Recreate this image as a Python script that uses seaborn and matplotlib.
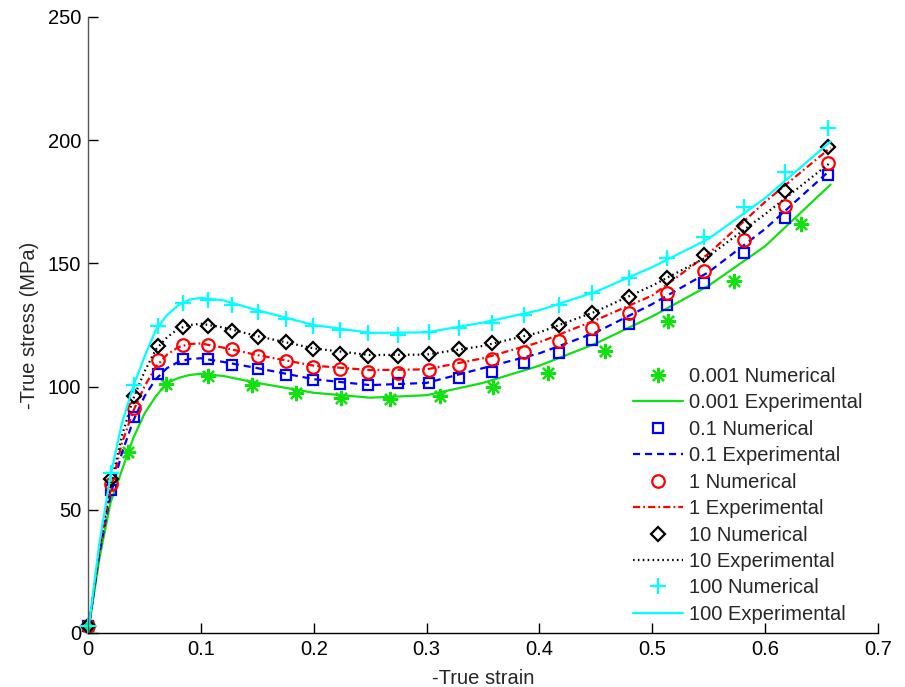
import matplotlib
matplotlib.use("Agg")
import matplotlib.pyplot as plt
import seaborn as sns
import numpy as np

# ---------------- data ----------------
rates = ["0.001", "0.1", "1", "10", "100"]

# numerical (markers)
num_x_001 = [0, 0.035, 0.069, 0.106, 0.145, 0.184, 0.224, 0.268, 0.312, 0.359,
             0.408, 0.458, 0.514, 0.572, 0.632]
num_y_001 = [3, 73.5, 101, 104.3, 100.8, 97.5, 95.2, 94.8, 96, 100,
             105.5, 114.6, 126.8, 142.7, 166]

num_x = [0, 0.020, 0.041, 0.062, 0.084, 0.106, 0.128, 0.151, 0.175, 0.199,
         0.223, 0.248, 0.275, 0.302, 0.329, 0.358, 0.386, 0.417, 0.447, 0.479,
         0.513, 0.546, 0.581, 0.618, 0.656]
num_y_01 = [3, 58, 87.5, 105, 111, 111, 108.8, 107, 104.7, 102.7,
            101, 100.6, 101.3, 101.6, 103.6, 106, 109.4, 113.8, 119, 125.4,
            133.1, 142.2, 154.3, 168.5, 186]
num_y_1 = [3, 60.5, 91.5, 110.8, 116.9, 116.9, 115.1, 112.4, 110.4, 108.1,
           107, 105.8, 105.7, 106.7, 108.8, 111, 114.2, 118.7, 123.6, 130,
           137.8, 147, 159.3, 173.3, 190.6]
num_y_10 = [3, 62.4, 96, 116.5, 124, 124.6, 122.6, 120.3, 117.9, 115.1,
            113.2, 112.4, 112.4, 113.2, 115.1, 117.6, 120.5, 125, 130, 136.5,
            143.9, 153.4, 165.2, 179.4, 197.4]
num_y_100 = [3, 65, 100.8, 124.4, 133.8, 135.1, 133.1, 130.4, 127.3, 124.6,
             123, 121.6, 121, 122.3, 123.7, 125.7, 129, 133.1, 137.9, 143.9,
             152, 160.9, 172.7, 187.2, 204.8]

# experimental (lines)
exp_x = [0, 0.01, 0.02, 0.03, 0.04, 0.05, 0.06, 0.07, 0.08, 0.09, 0.10, 0.12,
         0.15, 0.20, 0.25, 0.30, 0.35, 0.40, 0.45, 0.50, 0.55, 0.60, 0.658]
exp_y_001 = [0, 30, 53, 66, 79, 89, 96, 101.5, 103.5, 104.7, 105.2, 104.3,
             101.5, 97.5, 95.5, 96.5, 101.5, 108.5, 117.5, 128.5, 141, 157, 182]
exp_y_01 = [0, 32, 56, 73, 86, 96, 103, 107.5, 110, 111.2, 111.5, 110,
            107.5, 103, 100.6, 101.5, 107.5, 113.5, 122, 133.5, 146.5, 164, 188]
exp_y_1 = [0, 33, 58, 77, 90, 100, 108, 113, 116, 117.3, 117.5, 115.8,
           112.8, 108.5, 106.7, 107, 111.5, 118, 127, 137, 154, 175, 197]
exp_y_10 = [0, 34, 60, 80, 95, 106, 115, 120, 123.5, 125, 125.5, 124,
            120.5, 115.5, 112.8, 113, 116.5, 122, 130.5, 141, 153, 170, 191]
exp_y_100 = [0, 36, 64, 85, 100, 112, 123, 129, 133, 135.3, 136, 135,
             131, 125, 121.8, 122, 126, 131, 138.5, 148.5, 160, 176.5, 199.5]

x_ticks = [0, 0.1, 0.2, 0.3, 0.4, 0.5, 0.6, 0.7]
x_ticklabels = ["0", "0.1", "0.2", "0.3", "0.4", "0.5", "0.6", "0.7"]
y_ticks = [0, 50, 100, 150, 200, 250]
y_ticklabels = ["0", "50", "100", "150", "200", "250"]

# ---------------- style ----------------
sns.set_theme(style="white")
plt.rcParams["font.family"] = ["Liberation Sans", "DejaVu Sans"]
FS = 14.5

series = [
    dict(nx=num_x_001, ny=num_y_001, ey=exp_y_001, color="#11e011",
         marker=(8, 2, 0), ms=11, ls="-", dashes=None),
    dict(nx=num_x, ny=num_y_01, ey=exp_y_01, color="#0000ff",
         marker="s", ms=7.5, ls="--", dashes=(3.2, 2.2)),
    dict(nx=num_x, ny=num_y_1, ey=exp_y_1, color="#ff0000",
         marker="o", ms=9, ls="-.", dashes=(3.2, 1.4, 0.8, 1.4)),
    dict(nx=num_x, ny=num_y_10, ey=exp_y_10, color="#000000",
         marker="D", ms=7, ls=":", dashes=(0.7, 1.5)),
    dict(nx=num_x, ny=num_y_100, ey=exp_y_100, color="#00ffff",
         marker="+", ms=11, ls="-", dashes=None),
]

fig = plt.figure(figsize=(9.05, 6.87), dpi=100)
ax = fig.add_axes([88 / 905, 54 / 687, 790 / 905, 616 / 687])

handles, labels = [], []
for rate, s in zip(rates, series):
    # numerical markers
    sns.lineplot(x=s["nx"], y=s["ny"], ax=ax, linestyle="none",
                 marker=s["marker"], markersize=s["ms"],
                 markerfacecolor="none", markeredgecolor=s["color"],
                 markeredgewidth=1.6, color=s["color"], sort=False,
                 estimator=None)
    h1 = ax.lines[-1]
    h1.set_clip_on(False)
    # experimental line
    sns.lineplot(x=exp_x, y=s["ey"], ax=ax, color=s["color"], linewidth=1.6,
                 sort=False, estimator=None, linestyle=s["ls"])
    h2 = ax.lines[-1]
    if s["dashes"] is not None:
        h2.set_dashes(s["dashes"])
    handles += [h1, h2]
    labels += [f"{rate} Numerical", f"{rate} Experimental"]

ax.set_xlim(0, 0.7)
ax.set_ylim(0, 250)
ax.set_xticks(x_ticks)
ax.set_xticklabels(x_ticklabels)
ax.set_yticks(y_ticks)
ax.set_yticklabels(y_ticklabels)
ax.tick_params(axis="both", direction="in", length=7, width=1, labelsize=FS,
               color="black", labelcolor="black", bottom=True, left=True,
               top=False, right=False, pad=5)
for side in ["top", "right"]:
    ax.spines[side].set_visible(False)
ax.spines["left"].set_color("#555555")
ax.spines["bottom"].set_color("black")
for side in ["left", "bottom"]:
    ax.spines[side].set_linewidth(1.0)
ax.grid(False)

ax.set_xlabel("-True strain", fontsize=FS, labelpad=7)
ax.set_ylabel("-True stress (MPa)", fontsize=FS, labelpad=6)

leg = ax.legend(handles, labels, loc="upper left",
                bbox_to_anchor=(0.69, 0.432), frameon=False, fontsize=FS,
                handlelength=2.5, handletextpad=0.3, labelspacing=0.37,
                borderaxespad=0, borderpad=0)

fig.savefig("out.png", dpi=100, facecolor="white")
